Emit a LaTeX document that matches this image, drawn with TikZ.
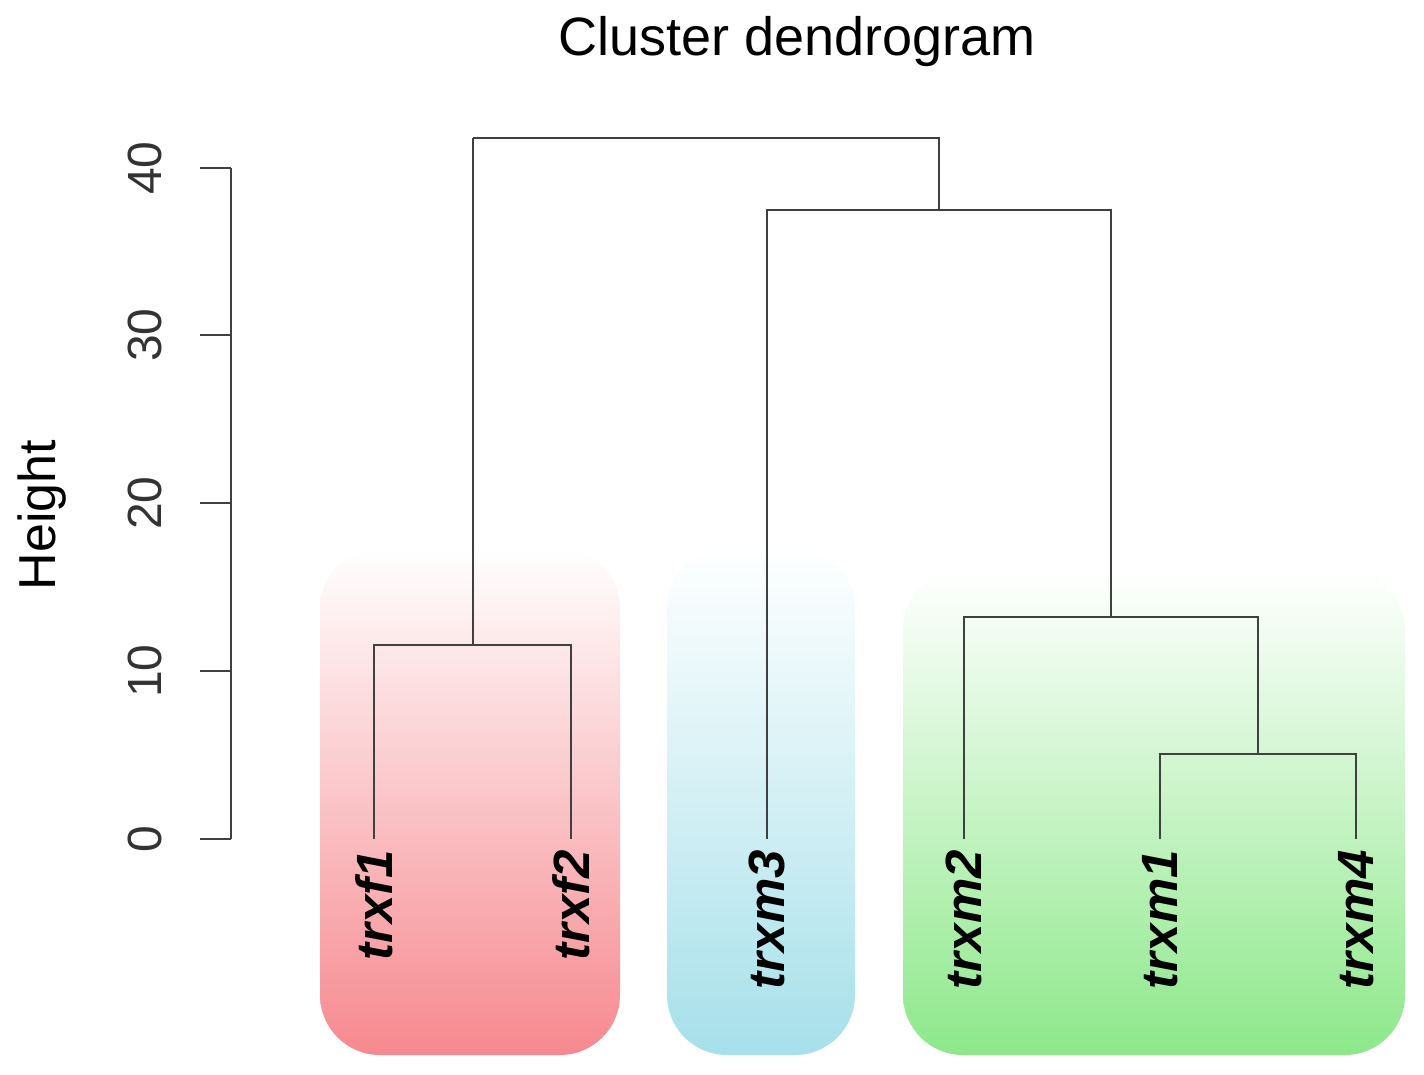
\documentclass[tikz,border=0pt]{standalone}
\usepackage{fontspec}
\setmainfont{Liberation Sans}
\definecolor{rb}{HTML}{F6898F}
\definecolor{rm}{HTML}{F9DCDA}
\definecolor{bb}{HTML}{A6E0EA}
\definecolor{bm}{HTML}{DDF1F2}
\definecolor{gb}{HTML}{8DE88A}
\definecolor{gm}{HTML}{DDF5D8}
\begin{document}
\begin{tikzpicture}[x=1pt,y=-1pt,
  ln/.style={line width=2.5pt,black!75},
  box/.style={rounded corners=60pt},
  leaf/.style={rotate=90,anchor=east,font=\fontsize{51}{54}\selectfont\bfseries\itshape,inner sep=0pt},
  tick/.style={rotate=90,font=\fontsize{48}{50}\selectfont,text=black!80}]
\useasboundingbox (0,0) rectangle (1424,1075);
\node (title) at (797,42) {\fontsize{54}{58}\selectfont Cluster dendrogram};
\node[rotate=90,font=\fontsize{52}{56}\selectfont] (ylab) at (42,515) {Height};
% axis
\draw[ln] (231,168) -- (231,839);
\foreach \v/\y in {0/839,10/671,20/503,30/335,40/168}{
  \draw[ln] (200,\y) -- (231,\y);
  \node[tick] at (145,\y) {\v};
}
% boxes
\shade[box,top color=white,middle color=rm,bottom color=rb] (320,548) rectangle (620,1055);
\shade[box,top color=white,middle color=bm,bottom color=bb] (667,548) rectangle (855,1055);
\shade[box,top color=white,middle color=gm,bottom color=gb] (903,570) rectangle (1405,1055);
% leaves
\coordinate (f1) at (374,839); \coordinate (f2) at (571,839);
\coordinate (m3) at (767,839); \coordinate (m2) at (964,839);
\coordinate (m1) at (1160,839); \coordinate (m4) at (1356,839);
\draw[ln] (f1) |- (473,645) -| (f2);
\draw[ln] (473,645) -- (473,138);
\draw[ln] (m1) |- (1258,754) -| (m4);
\draw[ln] (m2) |- (1111,617) -| (1258,754);
\draw[ln] (m3) |- (939,210) -| (1111,617);
\draw[ln] (473,138) -- (939,138) -- (939,210);
\node[leaf] (lf1) at (374,850) {trxf1};
\node[leaf] (lf2) at (571,850) {trxf2};
\node[leaf] (lm3) at (767,850) {trxm3};
\node[leaf] (lm2) at (964,850) {trxm2};
\node[leaf] (lm1) at (1160,850) {trxm1};
\node[leaf] (lm4) at (1356,850) {trxm4};
\end{tikzpicture}
\end{document}
